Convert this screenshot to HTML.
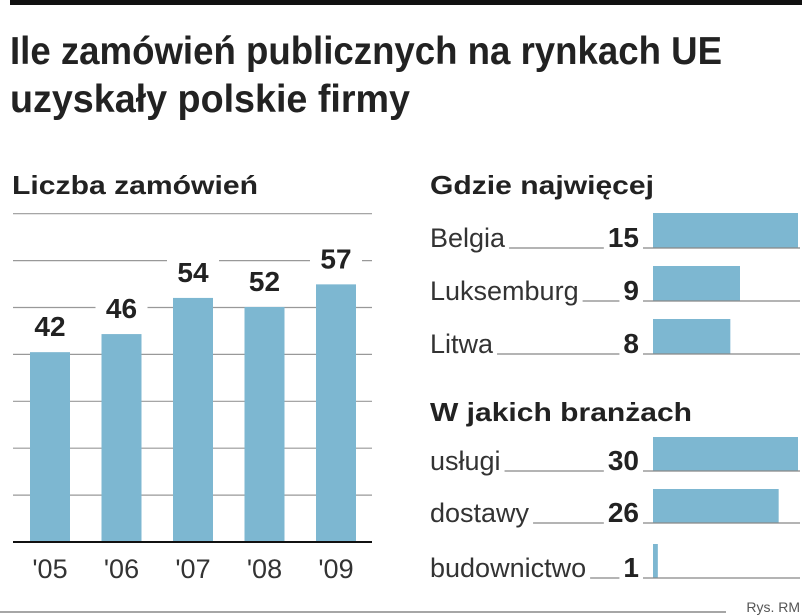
<!DOCTYPE html>
<html><head><meta charset="utf-8"><style>
body{margin:0;background:#fff;width:805px;height:616px;overflow:hidden}
svg{display:block;font-family:"Liberation Sans",sans-serif}
</style></head><body>
<svg id="c" width="805" height="616">
<rect x="10" y="0" width="792" height="5" fill="#111"/>
<text x="10" y="64" font-family="Liberation Sans Narrow, Liberation Sans, sans-serif" font-weight="bold" font-size="39" fill="#222" textLength="712" lengthAdjust="spacingAndGlyphs">Ile zamówień publicznych na rynkach UE</text>
<text x="10" y="112" font-family="Liberation Sans Narrow, Liberation Sans, sans-serif" font-weight="bold" font-size="39" fill="#222" textLength="400" lengthAdjust="spacingAndGlyphs">uzyskały polskie firmy</text>
<text x="12" y="194" font-weight="bold" font-size="26" fill="#222" textLength="246" lengthAdjust="spacingAndGlyphs">Liczba zamówień</text>
<text x="430" y="194" font-weight="bold" font-size="26" fill="#222" textLength="224" lengthAdjust="spacingAndGlyphs">Gdzie najwięcej</text>
<text x="430" y="421" font-weight="bold" font-size="26" fill="#222" textLength="262" lengthAdjust="spacingAndGlyphs">W jakich branżach</text>
<g id="left"></g><g id="right"></g>
<line x1="0" y1="612" x2="726" y2="612" stroke="#888" stroke-width="1.5"/>
<text x="800" y="612" text-anchor="end" font-size="14" fill="#555">Rys. RM</text>
</svg>
<script>
const years=["'05","'06","'07","'08","'09"];
const counts=[42,46,54,52,57];
const gridTicks=[10,20,30,40,50,60,70];
const countries=["Belgia","Luksemburg","Litwa"];
const countryVals=[15,9,8];
const sectors=["usługi","dostawy","budownictwo"];
const sectorVals=[30,26,1];
const NS="http://www.w3.org/2000/svg";
function mk(t,a,p,txt){const e=document.createElementNS(NS,t);for(const k in a)e.setAttribute(k,a[k]);if(txt!=null)e.textContent=txt;p.appendChild(e);return e;}
const L=document.getElementById('left');
const base=542, yk=4.52;
const y=v=>base-v*yk;
const gs=4.69;
gridTicks.forEach(t=>{const gy=base-t*gs;
 const g=mk('line',{x1:13,x2:372,y1:gy,y2:gy,stroke:'#999','stroke-width':1.2},L);
 
 });
const x0=30, step=71.5, bw=40;
counts.forEach((v,i)=>{
 const bx=x0+i*step;
 const r=mk('rect',{x:bx,y:y(v),width:bw,height:base-y(v),fill:'#7db7d1'},L);
 
 
 const bg=mk('rect',{x:bx-6,y:y(v)-42,width:bw+12,height:30,fill:'#fff'},L);
 
 
 const t=mk('text',{x:bx+bw/2,y:y(v)-16,'text-anchor':'middle','font-weight':'bold','font-size':28,fill:'#222'},L,v);
 
 
 const yl=mk('text',{x:bx+bw/2,y:578,'text-anchor':'middle','font-size':27,fill:'#333'},L,years[i]);
 
 
});
const ax=mk('line',{x1:13,x2:372,y1:base,y2:base,stroke:'#111','stroke-width':2},L);


const R=document.getElementById('right');
function hbars(names,vals,maxV,baselines,barH){
 names.forEach((n,i)=>{
  const b=baselines[i];
  const w=vals[i]*(145/maxV);
  const r=mk('rect',{x:653,y:b-barH,width:w,height:barH,fill:'#7db7d1'},R);
  
  
  const l=mk('line',{x1:643,x2:800,y1:b,y2:b,stroke:'#888','stroke-width':1.2},R);
  
  
  const t=mk('text',{x:430,y:b-1,'font-size':27,fill:'#333'},R,n);
  
  
  const v=mk('text',{x:639,y:b-1,'text-anchor':'end','font-weight':'bold','font-size':28,fill:'#222'},R,vals[i]);
  
  
  const tw=t.getComputedTextLength(), vw=v.getComputedTextLength();
  const ld=mk('line',{x1:430+tw+4,x2:639-vw-4,y1:b,y2:b,stroke:'#888','stroke-width':1.2},R);
  
  
 });
}
hbars(countries,countryVals,15,[248,301,354],35);
hbars(sectors,sectorVals,30,[471,523,578],34);
</script>
</body></html>
